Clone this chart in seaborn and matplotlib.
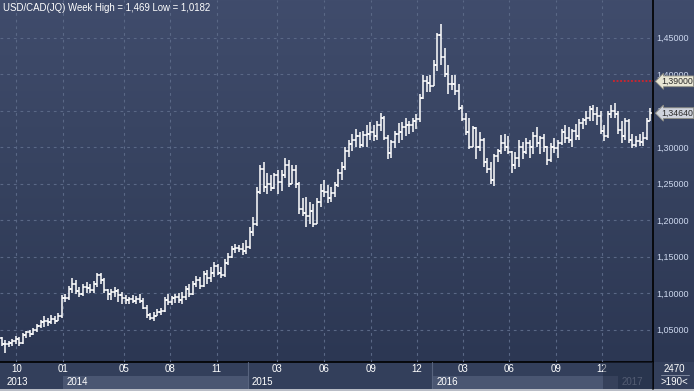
import numpy as np
import pandas as pd
import matplotlib
matplotlib.use("Agg")
import matplotlib.pyplot as plt
import matplotlib.transforms as mtransforms
from matplotlib.colors import LinearSegmentedColormap
from matplotlib.patches import Rectangle
from matplotlib.lines import Line2D
import seaborn as sns

# weekly USD/CAD bars, first week starting 2013-09-02
week_start = "2013-09-02"
opens = [
    1.038, 1.030, 1.030, 1.031, 1.034, 1.037, 1.032, 1.043, 1.046, 1.044,
    1.049, 1.055, 1.060, 1.062, 1.060, 1.065, 1.062, 1.068, 1.093, 1.093,
    1.105, 1.113, 1.103, 1.099, 1.108, 1.107, 1.104, 1.112, 1.124, 1.118,
    1.104, 1.098, 1.101, 1.103, 1.097, 1.093, 1.090, 1.092, 1.089, 1.092,
    1.089, 1.080, 1.070, 1.066, 1.069, 1.074, 1.076, 1.090, 1.088, 1.093,
    1.095, 1.091, 1.094, 1.106, 1.099, 1.112, 1.118, 1.110, 1.126, 1.120,
    1.128, 1.137, 1.128, 1.124, 1.141, 1.150, 1.160, 1.161, 1.160, 1.158,
    1.163, 1.183, 1.194, 1.239, 1.270, 1.245, 1.250, 1.244, 1.262, 1.252,
    1.262, 1.275, 1.250, 1.268, 1.250, 1.215, 1.210, 1.205, 1.212, 1.195,
    1.225, 1.240, 1.238, 1.230, 1.237, 1.248, 1.265, 1.272, 1.295, 1.304,
    1.310, 1.315, 1.303, 1.316, 1.318, 1.320, 1.315, 1.330, 1.340, 1.313,
    1.292, 1.307, 1.318, 1.321, 1.327, 1.330, 1.330, 1.335, 1.338, 1.367,
    1.391, 1.388, 1.384, 1.413, 1.453, 1.424, 1.400, 1.386, 1.386, 1.377,
    1.353, 1.339, 1.320, 1.300, 1.326, 1.300, 1.310, 1.280, 1.270, 1.255,
    1.288, 1.295, 1.305, 1.300, 1.293, 1.275, 1.285, 1.300, 1.293, 1.305,
    1.300, 1.315, 1.305, 1.312, 1.300, 1.282, 1.300, 1.298, 1.305, 1.320,
    1.312, 1.310, 1.322, 1.315, 1.333, 1.337, 1.340, 1.352, 1.345, 1.342,
    1.322, 1.315, 1.345, 1.350, 1.345, 1.323, 1.315, 1.335, 1.310, 1.303,
    1.308, 1.307, 1.312, 1.336,
]
highs = [
    1.040, 1.036, 1.034, 1.037, 1.041, 1.040, 1.045, 1.048, 1.050, 1.052,
    1.058, 1.063, 1.068, 1.066, 1.070, 1.068, 1.072, 1.097, 1.098, 1.110,
    1.120, 1.118, 1.108, 1.112, 1.115, 1.113, 1.116, 1.127, 1.128, 1.120,
    1.106, 1.105, 1.108, 1.105, 1.102, 1.097, 1.095, 1.097, 1.096, 1.098,
    1.093, 1.083, 1.073, 1.074, 1.078, 1.079, 1.095, 1.099, 1.096, 1.098,
    1.100, 1.102, 1.110, 1.112, 1.116, 1.123, 1.122, 1.130, 1.132, 1.135,
    1.143, 1.140, 1.135, 1.146, 1.155, 1.165, 1.167, 1.166, 1.168, 1.173,
    1.190, 1.204, 1.245, 1.275, 1.280, 1.265, 1.262, 1.265, 1.268, 1.268,
    1.285, 1.282, 1.275, 1.276, 1.252, 1.230, 1.232, 1.225, 1.222, 1.230,
    1.250, 1.255, 1.248, 1.245, 1.252, 1.270, 1.280, 1.300, 1.310, 1.318,
    1.325, 1.320, 1.322, 1.330, 1.334, 1.330, 1.335, 1.346, 1.343, 1.316,
    1.310, 1.322, 1.333, 1.334, 1.340, 1.335, 1.340, 1.345, 1.372, 1.399,
    1.397, 1.399, 1.419, 1.456, 1.469, 1.435, 1.413, 1.399, 1.398, 1.387,
    1.358, 1.347, 1.340, 1.329, 1.328, 1.320, 1.312, 1.285, 1.280, 1.291,
    1.297, 1.317, 1.318, 1.315, 1.295, 1.293, 1.310, 1.307, 1.312, 1.310,
    1.320, 1.327, 1.315, 1.318, 1.302, 1.305, 1.312, 1.310, 1.325, 1.330,
    1.328, 1.325, 1.332, 1.338, 1.340, 1.350, 1.356, 1.358, 1.355, 1.350,
    1.330, 1.350, 1.357, 1.360, 1.350, 1.335, 1.340, 1.338, 1.318, 1.315,
    1.318, 1.320, 1.340, 1.353,
]
lows = [
    1.027, 1.018, 1.026, 1.028, 1.030, 1.027, 1.030, 1.038, 1.040, 1.042,
    1.046, 1.052, 1.054, 1.055, 1.058, 1.058, 1.061, 1.066, 1.088, 1.090,
    1.100, 1.099, 1.095, 1.096, 1.100, 1.100, 1.100, 1.108, 1.112, 1.100,
    1.090, 1.091, 1.095, 1.088, 1.085, 1.085, 1.085, 1.086, 1.085, 1.086,
    1.078, 1.066, 1.063, 1.062, 1.068, 1.070, 1.074, 1.083, 1.084, 1.087,
    1.086, 1.085, 1.090, 1.095, 1.097, 1.108, 1.105, 1.108, 1.112, 1.115,
    1.122, 1.125, 1.120, 1.122, 1.138, 1.148, 1.155, 1.156, 1.152, 1.154,
    1.160, 1.178, 1.192, 1.236, 1.238, 1.236, 1.240, 1.242, 1.236, 1.240,
    1.258, 1.245, 1.250, 1.244, 1.208, 1.205, 1.190, 1.195, 1.190, 1.195,
    1.218, 1.232, 1.223, 1.224, 1.232, 1.245, 1.255, 1.268, 1.287, 1.295,
    1.300, 1.298, 1.300, 1.300, 1.310, 1.308, 1.310, 1.322, 1.310, 1.283,
    1.285, 1.298, 1.305, 1.310, 1.315, 1.318, 1.320, 1.325, 1.334, 1.366,
    1.375, 1.375, 1.384, 1.404, 1.413, 1.396, 1.372, 1.378, 1.371, 1.351,
    1.336, 1.316, 1.297, 1.300, 1.283, 1.294, 1.272, 1.264, 1.250, 1.246,
    1.280, 1.290, 1.295, 1.290, 1.265, 1.270, 1.272, 1.284, 1.290, 1.285,
    1.291, 1.300, 1.290, 1.293, 1.276, 1.280, 1.292, 1.285, 1.303, 1.305,
    1.305, 1.300, 1.310, 1.310, 1.325, 1.330, 1.335, 1.335, 1.330, 1.318,
    1.308, 1.313, 1.340, 1.340, 1.318, 1.305, 1.310, 1.305, 1.298, 1.300,
    1.302, 1.302, 1.310, 1.335,
]
closes = [
    1.030, 1.030, 1.031, 1.034, 1.037, 1.032, 1.043, 1.046, 1.044, 1.049,
    1.055, 1.060, 1.062, 1.060, 1.065, 1.062, 1.068, 1.093, 1.093, 1.105,
    1.113, 1.103, 1.099, 1.108, 1.107, 1.104, 1.112, 1.124, 1.118, 1.104,
    1.098, 1.101, 1.103, 1.097, 1.093, 1.090, 1.092, 1.089, 1.092, 1.089,
    1.080, 1.070, 1.066, 1.069, 1.074, 1.076, 1.090, 1.088, 1.093, 1.095,
    1.091, 1.094, 1.106, 1.099, 1.112, 1.118, 1.110, 1.126, 1.120, 1.128,
    1.137, 1.128, 1.124, 1.141, 1.150, 1.160, 1.161, 1.160, 1.158, 1.163,
    1.183, 1.194, 1.239, 1.270, 1.245, 1.250, 1.244, 1.262, 1.252, 1.262,
    1.275, 1.250, 1.268, 1.250, 1.215, 1.210, 1.205, 1.212, 1.195, 1.225,
    1.240, 1.238, 1.230, 1.237, 1.248, 1.265, 1.272, 1.295, 1.304, 1.310,
    1.315, 1.303, 1.316, 1.318, 1.320, 1.315, 1.330, 1.340, 1.313, 1.292,
    1.307, 1.318, 1.321, 1.327, 1.330, 1.330, 1.335, 1.338, 1.367, 1.391,
    1.388, 1.384, 1.413, 1.453, 1.424, 1.400, 1.386, 1.386, 1.377, 1.353,
    1.339, 1.320, 1.300, 1.326, 1.300, 1.310, 1.280, 1.270, 1.255, 1.288,
    1.295, 1.305, 1.300, 1.293, 1.275, 1.285, 1.300, 1.293, 1.305, 1.300,
    1.315, 1.305, 1.312, 1.300, 1.282, 1.300, 1.298, 1.305, 1.320, 1.312,
    1.310, 1.322, 1.315, 1.333, 1.337, 1.340, 1.352, 1.345, 1.342, 1.322,
    1.315, 1.345, 1.350, 1.345, 1.323, 1.315, 1.335, 1.310, 1.303, 1.308,
    1.307, 1.312, 1.336, 1.3464,
]
last_price = 1.3464
target_level = 1.39
target_from = "2016-12-22"

price_ticks = [1.05, 1.10, 1.15, 1.20, 1.25, 1.30, 1.35, 1.40, 1.45]
month_ticks = ["2013-10-01", "2014-01-01", "2014-05-01", "2014-08-01", "2014-11-01",
               "2015-03-01", "2015-06-01", "2015-09-01", "2015-12-01", "2016-03-01",
               "2016-06-01", "2016-09-01", "2016-12-01"]
month_labels = ["10", "01", "05", "08", "11", "03", "06", "09", "12", "03", "06", "09", "12"]
year_labels = ["2013", "2014", "2015", "2016", "2017"]
year_label_pos = ["2013-09-12", "2014-01-09", "2015-01-09", "2016-01-09", "2017-01-09"]
year_bands = [("2014-01-01", "2015-01-01"), ("2016-01-01", "2017-01-01")]

title = "USD/CAD(JQ) Week High = 1,469 Low = 1,0182"

sns.set_style("dark")
plt.rcParams["font.family"] = ["Liberation Sans", "DejaVu Sans"]

W, H = 694, 391
fig = plt.figure(figsize=(W / 100, H / 100), dpi=100)
fig.patch.set_facecolor("#333f5b")

# background gradient behind plot + right price scale
bg = fig.add_axes([0, 29 / H, 1, 362 / H], zorder=0)
cmap = LinearSegmentedColormap.from_list("bg", ["#404c6c", "#36425f", "#2c3753"])
bg.imshow(np.linspace(0, 1, 256).reshape(-1, 1), aspect="auto", cmap=cmap,
          extent=[0, 1, 0, 1], origin="upper")
bg.axis("off")

ax = fig.add_axes([0, 29 / H, 653 / W, 362 / H], zorder=2)
ax.patch.set_alpha(0)

dates = pd.date_range(week_start, periods=len(closes), freq="7D")
n = len(dates)
bars = pd.DataFrame({
    "date": list(dates) + list(dates),
    "price": lows + highs,
    "week": list(range(n)) + list(range(n)),
})
sns.lineplot(data=bars, x="date", y="price", units="week", estimator=None,
             color="white", lw=1.1, ax=ax, legend=False, solid_capstyle="butt")
tick = pd.Timedelta(days=4)
ax.hlines(opens, dates - tick, dates, color="white", lw=1.1)
ax.hlines(closes, dates, dates + tick, color="white", lw=1.1)

x0 = dates[0] - pd.Timedelta(days=3)
x1 = dates[-1] + pd.Timedelta(days=5.6)
ax.set_xlim(x0, x1)
ax.set_ylim(1.0055, 1.5014)

ax.hlines(target_level, pd.Timestamp(target_from), x1, color="#d3232b",
          lw=1.3, linestyles=(0, (1.0, 1.0)), zorder=4)

grid_kw = dict(color="#5a6886", lw=0.8, ls=(0, (2.5, 3.5)))
ax.set_xticks(pd.to_datetime(month_ticks))
ax.set_yticks(price_ticks)
ax.grid(True, **grid_kw)
ax.tick_params(axis="x", length=0, labelbottom=False)
ax.yaxis.tick_right()
ax.tick_params(axis="y", length=0, pad=2.5, labelsize=6.5, labelcolor="#cdd8ee")
ax.set_yticklabels([f"{v:.5f}".replace(".", ",") for v in price_ticks])
ax.set_xlabel("")
ax.set_ylabel("")
for s in ax.spines.values():
    s.set_visible(False)

ax.text(3 / 653, 1 - 8 / 362, title, transform=ax.transAxes, color="white",
        fontsize=6.9, va="center", ha="left")

trans = mtransforms.blended_transform_factory(ax.transAxes, ax.transData)
for level, fc in [(target_level, "#e8e6d4"), (last_price, "#cfd3dc")]:
    ax.text(1 + 8 / 653, level, f"{level:.5f}".replace(".", ","), transform=trans,
            ha="left", va="center", fontsize=6.3, color="#2a2a2a", clip_on=False, zorder=5,
            bbox=dict(boxstyle="larrow,pad=0.1", fc=fc, ec="#8d8d84", lw=0.6))

# bottom time axis
bx = fig.add_axes([0, 2 / H, 653 / W, 27 / H], zorder=2)
bx.set_facecolor("#333f5b")
bx.set_xlim(ax.get_xlim())
bx.set_ylim(0, 1)
bx.axis("off")
for a, b in year_bands:
    bx.add_patch(Rectangle((pd.Timestamp(a), 0), pd.Timestamp(b) - pd.Timestamp(a), 0.5,
                           color="#4a5672", lw=0))
for d in ["2015-01-01", "2016-01-01"]:
    bx.axvline(pd.Timestamp(d), color="#58647f", lw=0.8)
for d, lab in zip(pd.to_datetime(month_ticks), month_labels):
    bx.text(d, 0.74, lab, color="white", fontsize=7, ha="center", va="center")
for d, lab in zip(pd.to_datetime(year_label_pos), year_labels):
    bx.text(d, 0.26, lab, color="#7d879c" if lab == "2017" else "white",
            fontsize=7, ha="left", va="center")
bx.add_patch(Rectangle((pd.Timestamp("2016-12-02"), 0), x1 - pd.Timestamp("2016-12-02"), 1,
                       color="#1f2940", alpha=0.45, lw=0, zorder=3))

# frame lines and bottom-right box
fig.add_artist(Line2D([653 / W, 653 / W], [2 / H, 1], color="black", lw=1.2))
fig.add_artist(Line2D([0, 653 / W], [29 / H, 29 / H], color="black", lw=1.2))
fig.add_artist(Rectangle((0, 0), 1, 2 / H, color="#b9bdc6", lw=0))
fig.add_artist(Line2D([661 / W, 689 / W], [1 - 375 / H, 1 - 375 / H], color="#8a93a8", lw=0.6))
fig.text(674 / W, 1 - 369 / H, "2470", color="white", fontsize=7, ha="center", va="center")
fig.text(674 / W, 1 - 382 / H, ">190<", color="white", fontsize=7, ha="center", va="center")

fig.savefig("out.png", dpi=100, facecolor=fig.get_facecolor())
